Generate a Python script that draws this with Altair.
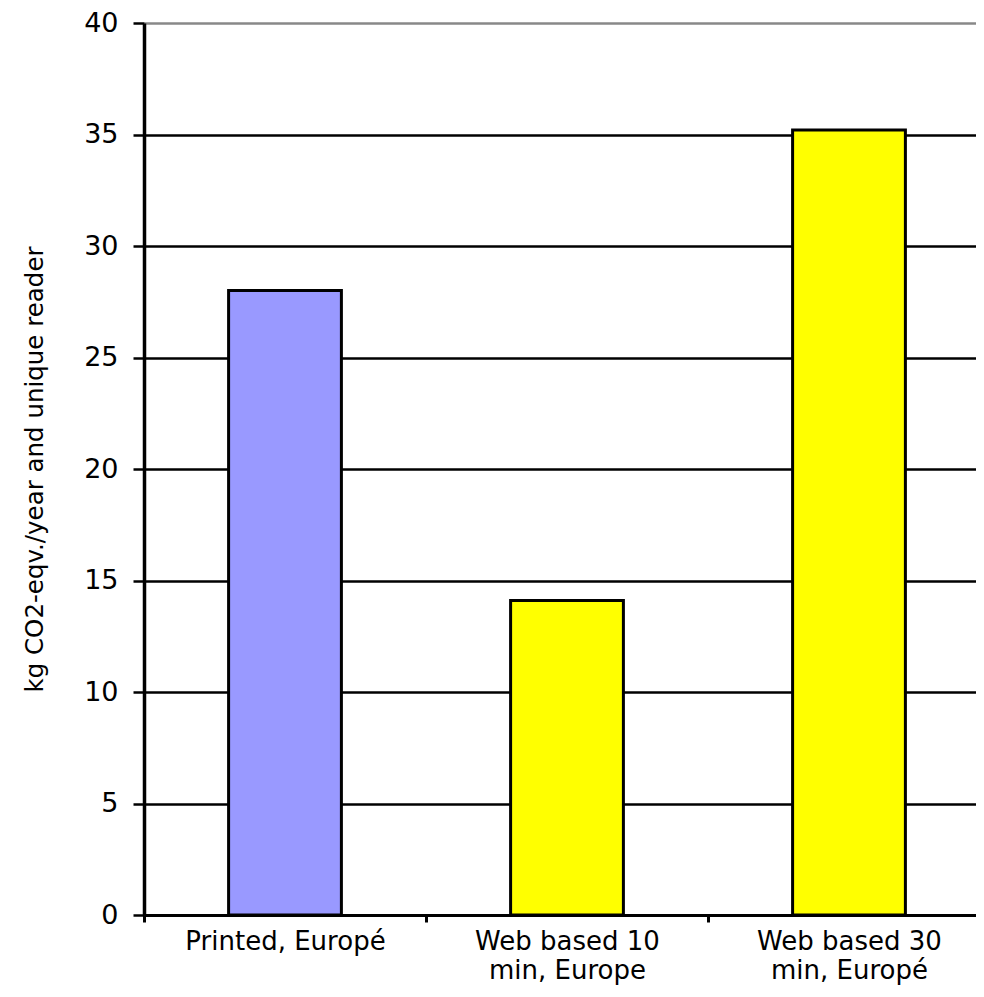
import altair as alt
import pandas as pd

categories = ["Printed, Europé", "Web based 10\nmin, Europe", "Web based 30\nmin, Europé"]
values = [28.0, 14.1, 35.2]
bar_colors = ["#9999FF", "#FFFF00", "#FFFF00"]
y_ticks = [0, 5, 10, 15, 20, 25, 30, 35, 40]
y_title = "kg CO2-eqv./year and unique reader"

df = pd.DataFrame({"category": categories, "value": values, "color": bar_colors})

chart = alt.Chart(df).mark_bar(
    width=alt.RelativeBandSize(0.4), stroke="black", strokeWidth=3
).encode(
    x=alt.X(
        "category:N",
        sort=categories,
        scale=alt.Scale(paddingInner=0, paddingOuter=0, range=[0, 846]),
        axis=alt.Axis(
            title=None,
            labelAngle=0,
            labelExpr="split(datum.label, '\\n')",
            labelLineHeight=29,
            labelFontSize=26,
            labelPadding=6,
            labelLimit=0,
            tickBand="extent",
            tickSize=7,
            tickWidth=3,
            tickColor="black",
            domainColor="black",
            domainWidth=3,
            labelColor="black",
            grid=False,
        ),
    ),
    y=alt.Y(
        "value:Q",
        scale=alt.Scale(domain=[0, 40], nice=False),
        axis=alt.Axis(
            values=y_ticks,
            title=y_title,
            titleFontSize=24.5,
            titleFontWeight="normal",
            titleColor="black",
            titleX=-97,
            titleY=446,
            labelFontSize=27,
            labelPadding=15,
            labelColor="black",
            tickSize=11,
            tickWidth=2.5,
            tickColor="black",
            domainColor="black",
            domainWidth=3.5,
            grid=True,
            gridColor={"condition": {"test": "datum.value == 40", "value": "#888888"}, "value": "black"},
            gridWidth=2.5,
        ),
    ),
    color=alt.Color("color:N", scale=None),
).properties(
    width=832,
    height=892,
    autosize=alt.AutoSizeParams(type="none"),
    padding={"left": 136, "top": 15, "right": 0, "bottom": 74},
).configure_axis(
    labelFont="DejaVu Sans",
    titleFont="DejaVu Sans",
).configure_view(
    stroke=None
)

chart.save("out.html", embed_options={"renderer": "svg", "actions": False})
